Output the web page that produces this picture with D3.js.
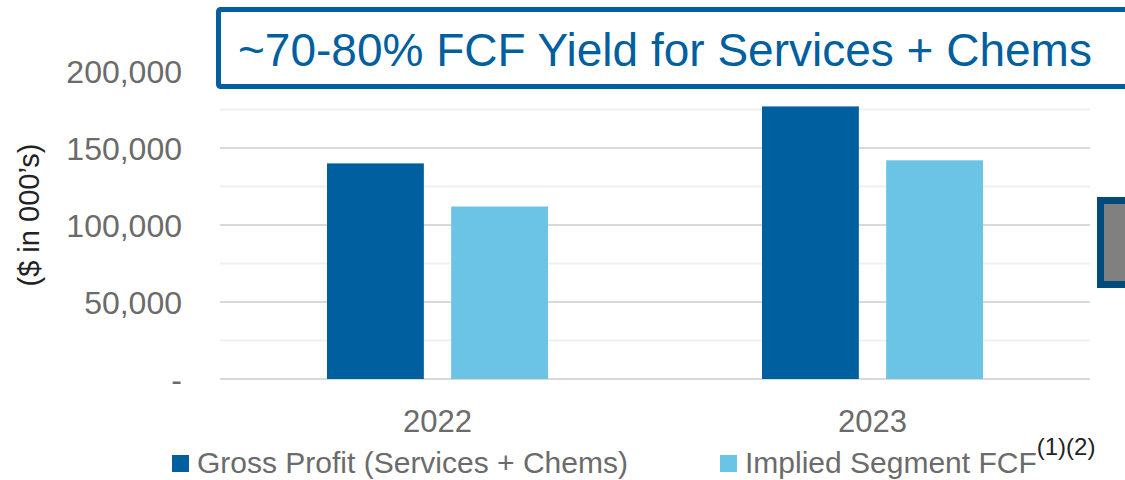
<!DOCTYPE html>
<html>
<head>
<meta charset="utf-8">
<script src="https://cdn.jsdelivr.net/npm/d3@7"></script>
<style>
  body { margin: 0; background: #fff; }
  svg { display: block; font-family: "Liberation Sans", Arial, sans-serif; }
</style>
</head>
<body>
<svg id="chart"></svg>
<script>
// chart data
const years = ["2022", "2023"]
const seriesNames = ["Gross Profit (Services + Chems)", "Implied Segment FCF"]
const grossProfit = [140000, 177000]
const impliedFCF = [112000, 142000]
const yTicks = [0, 50000, 100000, 150000, 200000]
const gridTicks = [0, 25000, 50000, 75000, 100000, 125000, 150000, 175000, 200000]

const width = 1125, height = 480
const colors = ["#005f9e", "#6bc3e5"]

const svg = d3.select("#chart")
    .attr("width", width)
    .attr("height", height)

const x0 = d3.scaleBand()
    .domain(years)
    .range([220, 1090])

const x1 = d3.scaleBand()
    .domain(seriesNames)
    .range([0, 221])
    .paddingInner(0.22)

const y = d3.scaleLinear()
    .domain([0, 200000])
    .range([379, 71])

// gridlines, darker every 50k
svg.append("g")
    .selectAll("line")
    .data(gridTicks)
    .join("line")
    .attr("x1", 220)
    .attr("x2", 1090)
    .attr("y1", d => y(d))
    .attr("y2", d => y(d))
    .attr("stroke", d => d % 50000 === 0 ? "#d9d9d9" : "#f0f0f0")
    .attr("stroke-width", 2)

// y tick labels
const fmt = d3.format(",")
svg.append("g")
    .selectAll("text")
    .data(yTicks)
    .join("text")
    .attr("x", 182)
    .attr("y", d => y(d))
    .attr("dy", "0.36em")
    .attr("text-anchor", "end")
    .attr("fill", "#6b6b6b")
    .style("font-size", "32px")
    .text(d => d === 0 ? "-" : fmt(d))

// y axis title
svg.append("text")
    .attr("transform", "translate(39, 215) rotate(-90)")
    .attr("text-anchor", "middle")
    .attr("fill", "#222")
    .style("font-size", "29px")
    .text("($ in 000\u2019s)")

// bars
const rows = years.map((yr, i) => ({ year: yr, values: [grossProfit[i], impliedFCF[i]] }))

const groups = svg.append("g")
    .selectAll("g")
    .data(rows)
    .join("g")
    .attr("transform", d => `translate(${x0(d.year) + x0.bandwidth() / 2 - 110.5}, 0)`)

groups.selectAll("rect")
    .data(d => d.values.map((v, j) => ({ key: seriesNames[j], value: v, idx: j })))
    .join("rect")
    .attr("x", d => x1(d.key))
    .attr("width", x1.bandwidth())
    .attr("y", d => y(d.value))
    .attr("height", d => y(0) - y(d.value))
    .attr("fill", d => colors[d.idx])

// x labels
svg.append("g")
    .selectAll("text")
    .data(years)
    .join("text")
    .attr("x", d => x0(d) + x0.bandwidth() / 2)
    .attr("y", 432)
    .attr("text-anchor", "middle")
    .attr("fill", "#6b6b6b")
    .style("font-size", "31px")
    .text(d => d)

// title box
svg.append("rect")
    .attr("x", 218.5)
    .attr("y", 9.5)
    .attr("width", 940)
    .attr("height", 77)
    .attr("rx", 2)
    .attr("fill", "#fff")
    .attr("stroke", "#005f9e")
    .attr("stroke-width", 5)

svg.append("text")
    .attr("x", 238)
    .attr("y", 66)
    .attr("fill", "#005f9e")
    .style("font-size", "46px")
    .text("~70-80% FCF Yield for Services + Chems")

// gray box on the right edge
svg.append("rect")
    .attr("x", 1100.5)
    .attr("y", 200.5)
    .attr("width", 60)
    .attr("height", 84)
    .attr("fill", "#808080")
    .attr("stroke", "#004a7c")
    .attr("stroke-width", 7)

// legend
const legendX = [172, 720]
const legend = svg.append("g")
    .selectAll("g")
    .data(seriesNames)
    .join("g")
    .attr("transform", (d, i) => `translate(${legendX[i]}, 0)`)

legend.append("rect")
    .attr("x", 0)
    .attr("y", 455)
    .attr("width", 17)
    .attr("height", 17)
    .attr("fill", (d, i) => colors[i])

legend.append("text")
    .attr("x", 25)
    .attr("y", 473)
    .attr("fill", "#6b6b6b")
    .style("font-size", "30px")
    .text(d => d)
    .append("tspan")
    .attr("dy", -18)
    .attr("fill", "#222")
    .style("font-size", "24px")
    .text((d, i) => i === 1 ? "(1)(2)" : "")
</script>
</body>
</html>
